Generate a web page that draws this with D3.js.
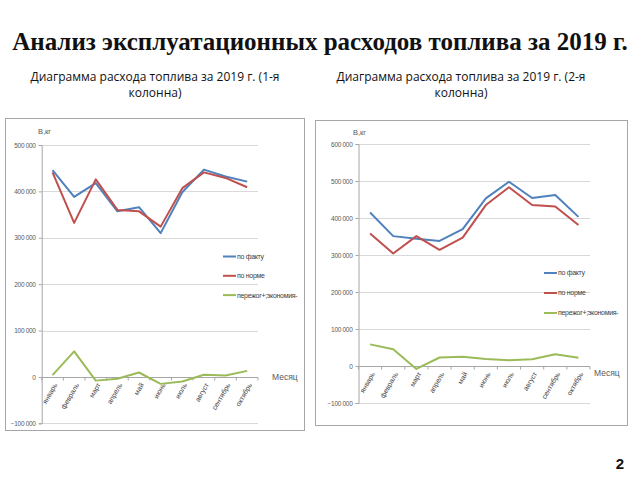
<!DOCTYPE html>
<html><head><meta charset="utf-8">
<script src="https://cdn.jsdelivr.net/npm/d3@7"></script>
<style>body{margin:0;background:#fff}svg{display:block}</style>
</head><body>
<svg id="c" width="640" height="480"></svg>
<script>
const months = ["январь","февраль","март","апрель","май","июнь","июль","август","сентябрь","октябрь"];
const seriesNames = ["по факту","по норме","пережог+;экономия-"];
const seriesColors = ["#4f81bd","#c0504d","#9bbb59"];
// Chart 1 (1-я колонна)
const fact1 = [446000,388000,418000,357000,366000,310000,398000,447000,432000,421000];
const norm1 = [441000,332000,426000,360000,357000,324000,407000,441000,429000,409000];
const diff1 = [4000,55000,-8000,-4000,9500,-15000,-10000,4500,3000,13000];
const ticks1 = [-100000,0,100000,200000,300000,400000,500000];
// Chart 2 (2-я колонна)
const fact2 = [415000,351000,344000,338000,370000,453000,498000,454000,462000,403000];
const norm2 = [358000,304000,351000,314000,347000,435000,483000,435000,431000,381000];
const diff2 = [58500,45000,-8000,23000,25000,19000,15500,18000,31500,22500];
const ticks2 = [-100000,0,100000,200000,300000,400000,500000,600000];

const title = "Анализ эксплуатационных расходов топлива за 2019 г.";
const sub1 = ["Диаграмма расхода топлива за 2019 г. (1-я","колонна)"];
const sub2 = ["Диаграмма расхода топлива за 2019 г. (2-я","колонна)"];

const svg = d3.select("#c");
svg.append("text").attr("x",320).attr("y",50).attr("text-anchor","middle")
  .attr("font-family","Liberation Serif, Times New Roman, serif").attr("font-weight","bold")
  .attr("font-size",25).attr("fill","#111").text(title);
function subtitle(lines,cx){
  lines.forEach((l,i)=>svg.append("text").attr("x",cx).attr("y",81+i*16).attr("text-anchor","middle")
    .attr("font-family","Open Sans, Liberation Sans, sans-serif").attr("font-size",12).attr("fill","#111").text(l));
}
subtitle(sub1,155); subtitle(sub2,461);
svg.append("text").attr("x",624).attr("y",469).attr("text-anchor","end")
  .attr("font-family","Liberation Sans, Arial, sans-serif").attr("font-weight","bold").attr("font-size",15).attr("fill","#111").text("2");

const fmt = v => d3.format(",")(v).replace(/,/g," ");

function chart(o){
  const g = svg.append("g");
  g.append("rect").attr("x",o.box[0]+0.5).attr("y",o.box[1]+0.5).attr("width",o.box[2]).attr("height",o.box[3])
    .attr("fill","#fff").attr("stroke","#a6a6a6").attr("stroke-width",1);
  const x = d3.scalePoint().domain(months).range([o.x0,o.x1]).padding(0.5);
  const y = d3.scaleLinear().domain([o.ticks[0],o.ticks[o.ticks.length-1]]).range([o.yb,o.yt]);
  // grid
  g.append("g").selectAll("line").data(o.ticks).join("line")
    .attr("x1",o.x0).attr("x2",o.x1).attr("y1",d=>Math.round(y(d))+0.5).attr("y2",d=>Math.round(y(d))+0.5)
    .attr("stroke","#d9d9d9").attr("stroke-width",1);
  // y axis
  const ya = g.append("g").attr("transform",`translate(${o.x0},0)`)
    .call(d3.axisLeft(y).tickValues(o.ticks).tickFormat(fmt).tickSize(3).tickPadding(3));
  ya.select(".domain").attr("stroke","#a6a6a6");
  ya.selectAll(".tick line").attr("stroke","#a6a6a6");
  ya.selectAll("text").attr("font-family","Liberation Sans, Arial, sans-serif").attr("font-size",6.5)
    .attr("fill","#595959").attr("letter-spacing",-0.3);
  // x axis at 0
  const y0 = Math.round(y(0))+0.5;
  const bw = x.step();
  g.append("line").attr("x1",o.x0).attr("x2",o.x1).attr("y1",y0).attr("y2",y0).attr("stroke","#a6a6a6");
  g.append("g").selectAll("line").data(d3.range(months.length+1)).join("line")
    .attr("x1",i=>o.x0+i*bw).attr("x2",i=>o.x0+i*bw).attr("y1",y0).attr("y2",y0+3).attr("stroke","#a6a6a6");
  g.append("g").selectAll("text").data(months).join("text")
    .attr("transform",d=>`translate(${x(d)+3},${y0+6}) rotate(-60)`)
    .attr("text-anchor","end").attr("dy","0.35em")
    .attr("font-family","Liberation Sans, Arial, sans-serif").attr("font-size",7).attr("fill","#404040")
    .text(d=>d);
  // labels
  g.append("text").attr("x",o.ylab[0]).attr("y",o.ylab[1]).attr("font-family","Liberation Sans, Arial, sans-serif")
    .attr("font-size",7.5).attr("fill","#595959").text("В,кг");
  g.append("text").attr("x",o.xlab[0]).attr("y",o.xlab[1]).attr("font-family","Liberation Sans, Arial, sans-serif")
    .attr("font-size",8.5).attr("fill","#595959").text("Месяц");
  // lines
  const line = d3.line().x((d,i)=>x(months[i])).y(d=>y(d));
  o.data.forEach((s,k)=>{
    g.append("path").datum(s).attr("d",line).attr("fill","none")
      .attr("stroke",seriesColors[k]).attr("stroke-width",2).attr("stroke-linejoin","round");
  });
  // legend
  seriesNames.forEach((n,k)=>{
    const ly = o.leg[1]+k*o.leg[2];
    g.append("line").attr("x1",o.leg[0]).attr("x2",o.leg[0]+13).attr("y1",ly).attr("y2",ly)
      .attr("stroke",seriesColors[k]).attr("stroke-width",2);
    g.append("text").attr("x",o.leg[0]+14).attr("y",ly).attr("dy","0.35em")
      .attr("font-family","Liberation Sans, Arial, sans-serif").attr("font-size",7).attr("fill","#404040")
      .attr("letter-spacing",-0.3).text(n);
  });
}
chart({box:[5,118,299,312], x0:41.7, x1:258, yt:145, yb:423.3, ticks:ticks1,
  data:[fact1,norm1,diff1], ylab:[38,134], xlab:[272,380], leg:[223,256.5,19.3]});
chart({box:[315,120,312,305], x0:358.5, x1:590, yt:144, yb:403, ticks:ticks2,
  data:[fact2,norm2,diff2], ylab:[353,135], xlab:[594,376], leg:[544,273,20]});
</script>
</body></html>
